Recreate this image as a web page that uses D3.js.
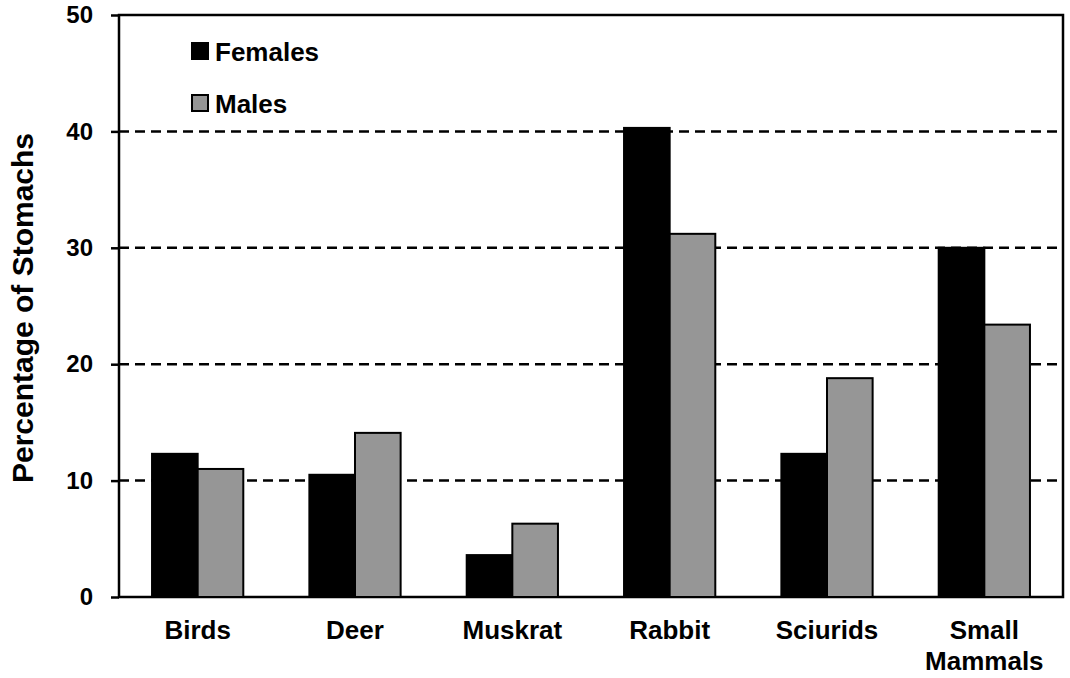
<!DOCTYPE html>
<html>
<head>
<meta charset="utf-8">
<script src="https://cdn.jsdelivr.net/npm/d3@7"></script>
<style>
  body { margin: 0; background: #fff; }
  text { font-family: "Liberation Sans", Arial, sans-serif; font-weight: bold; }
</style>
</head>
<body>
<svg id="chart" width="1070" height="678"></svg>
<script>
const categories = ['Birds', 'Deer', 'Muskrat', 'Rabbit', 'Sciurids', 'Small Mammals'];
const seriesNames = ['Females', 'Males'];
const females = [12.3, 10.5, 3.6, 40.3, 12.3, 30.0];
const males = [11.0, 14.1, 6.3, 31.2, 18.8, 23.4];
const yTicks = [0, 10, 20, 30, 40, 50];

const colors = { Females: '#000000', Males: '#969696' };

const margin = { top: 15, right: 7, bottom: 81, left: 119 };
const width = 1070 - margin.left - margin.right;
const height = 678 - margin.top - margin.bottom;

const svg = d3.select('#chart');
const g = svg.append('g').attr('transform', `translate(${margin.left},${margin.top})`);

const xScale = d3.scaleBand().domain(categories).range([0, width]).paddingInner(0.42).paddingOuter(0.21);
const xInner = d3.scaleBand().domain(seriesNames).range([0, xScale.bandwidth()]);
const yScale = d3.scaleLinear().domain([0, 50]).range([height, 0]);

// dashed gridlines
g.selectAll('line.grid')
  .data(yTicks.filter((t) => t > 0 && t < 50))
  .enter()
  .append('line')
  .attr('class', 'grid')
  .attr('x1', 0)
  .attr('x2', width)
  .attr('y1', (d) => yScale(d))
  .attr('y2', (d) => yScale(d))
  .attr('stroke', '#000')
  .attr('stroke-width', 2.5)
  .attr('stroke-dasharray', '10,6');

// plot frame
g.append('rect')
  .attr('x', 0)
  .attr('y', 0)
  .attr('width', width)
  .attr('height', height)
  .attr('fill', 'none')
  .attr('stroke', '#000')
  .attr('stroke-width', 2.5);

const rows = categories.map((c, i) => ({ category: c, Females: females[i], Males: males[i] }));

const groups = g.selectAll('g.cat')
  .data(rows)
  .enter()
  .append('g')
  .attr('class', 'cat')
  .attr('transform', (d) => `translate(${xScale(d.category)},0)`);

groups.selectAll('rect')
  .data((d) => seriesNames.map((key) => ({ key, value: d[key] })))
  .enter()
  .append('rect')
  .attr('x', (d) => xInner(d.key))
  .attr('y', (d) => yScale(d.value))
  .attr('width', xInner.bandwidth())
  .attr('height', (d) => yScale(0) - yScale(d.value))
  .attr('fill', (d) => colors[d.key])
  .attr('stroke', '#000')
  .attr('stroke-width', 2);

// y axis
const yAxis = g.append('g')
  .call(d3.axisLeft(yScale).tickValues(yTicks).tickSize(8).tickPadding(18));
yAxis.select('.domain').remove();
yAxis.selectAll('.tick line').attr('stroke', '#000').attr('stroke-width', 2.5);
yAxis.selectAll('.tick text')
  .attr('font-size', 24)
  .attr('fill', '#000')
  .style('font-family', '"Liberation Sans", Arial, sans-serif')
  .style('font-weight', 'bold');

// x labels
const xLabels = g.append('g')
  .selectAll('text')
  .data(categories)
  .enter()
  .append('text')
  .attr('x', (d) => xScale(d) + xScale.bandwidth() / 2)
  .attr('y', height + 42)
  .attr('text-anchor', 'middle')
  .attr('font-size', 26)
  .attr('fill', '#000');

xLabels.each(function (d) {
  const words = d.split(' ');
  const t = d3.select(this);
  words.forEach((w, i) => {
    t.append('tspan')
      .attr('x', xScale(d) + xScale.bandwidth() / 2)
      .attr('dy', i === 0 ? 0 : 31)
      .text(w);
  });
});

// y title
svg.append('text')
  .attr('transform', `translate(33,${margin.top + 293}) rotate(-90)`)
  .attr('text-anchor', 'middle')
  .attr('font-size', 30)
  .attr('fill', '#000')
  .text('Percentage of Stomachs');

// legend
const legend = g.append('g').attr('transform', 'translate(73,28)');
const legendItems = legend.selectAll('g')
  .data(seriesNames)
  .enter()
  .append('g')
  .attr('transform', (d, i) => `translate(0,${i * 52})`);

legendItems.append('rect')
  .attr('x', 0)
  .attr('y', 0)
  .attr('width', 16)
  .attr('height', 16)
  .attr('fill', (d) => colors[d])
  .attr('stroke', '#000')
  .attr('stroke-width', 2);

legendItems.append('text')
  .attr('x', 23)
  .attr('y', 18)
  .attr('font-size', 26)
  .attr('fill', '#000')
  .text((d) => d);
</script>
</body>
</html>
